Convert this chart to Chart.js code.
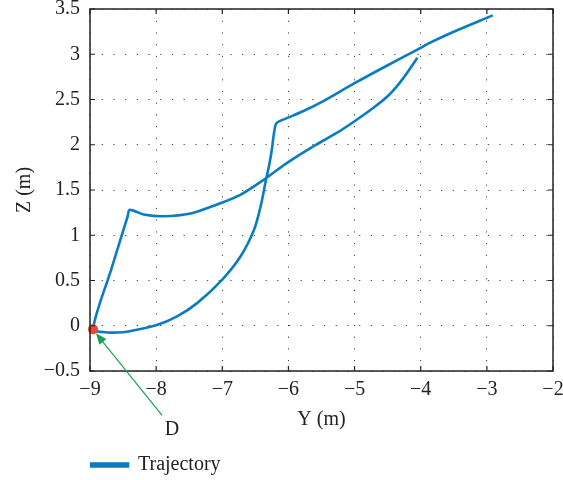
<!DOCTYPE html>
<html>
<head>
<meta charset="utf-8">
<script src="https://cdn.jsdelivr.net/npm/chart.js@4/dist/chart.umd.min.js"></script>
<style>
  html, body { margin: 0; padding: 0; background: #fff; }
  #wrap { width: 563px; height: 480px; }
</style>
</head>
<body>
<div id="wrap"><canvas id="chart" width="563" height="480"></canvas></div>
<script>
// trajectory (Y, Z in metres), in drawing order
const trajY = [-2.91, -3.56, -3.88, -4.00, -4.52, -5.00, -5.48, -5.78, -6.07, -6.18,
  -6.22, -6.25, -6.29, -6.34, -6.42, -6.52, -6.72, -7.00, -7.38, -7.69,
  -8.00, -8.40, -8.60, -8.80, -8.955,
  -8.68, -8.43, -8.40,
  -8.19, -7.89, -7.48, -7.08, -6.72, -6.34, -6.02, -5.63, -5.27,
  -5.00, -4.73, -4.48, -4.28, -4.05];
const trajZ = [3.43, 3.23, 3.12, 3.07, 2.87, 2.68, 2.48, 2.37, 2.28, 2.24,
  2.12, 1.95, 1.78, 1.61, 1.32, 1.06, 0.77, 0.51, 0.25, 0.10,
  0.005, -0.06, -0.075, -0.07, -0.04,
  0.62, 1.21, 1.28,
  1.23, 1.21, 1.24, 1.34, 1.45, 1.63, 1.80, 1.98, 2.13,
  2.26, 2.40, 2.55, 2.72, 2.96];

const pointD = { x: -8.955, y: -0.04 };
const labelD = { text: "D", x: -7.76, y: -1.13 };
const arrowTail = { x: -7.91, y: -0.99 };

const xTicks = [-9, -8, -7, -6, -5, -4, -3, -2];
const yTicks = [-0.5, 0, 0.5, 1, 1.5, 2, 2.5, 3, 3.5];

const serif = "'Liberation Serif', 'DejaVu Serif', serif";
const ink = "#222222";

const trajectory = trajY.map(function (y, i) { return { x: y, y: trajZ[i] }; });

function minus(v) {
    return String(v).replace("-", "\u2212");
}

function noPad(s) {
    s.paddingLeft = 0;
    s.paddingRight = 0;
    s.paddingTop = 0;
    s.paddingBottom = 0;
}

const boxPlugin = {
    id: "boxPlugin",
    afterDraw: function (chart) {
        const ctx = chart.ctx;
        const a = chart.chartArea;
        const sx = chart.scales.x;
        const sy = chart.scales.y;

        ctx.save();
        ctx.strokeStyle = ink;
        ctx.lineWidth = 1.5;
        ctx.strokeRect(a.left, a.top, a.right - a.left, a.bottom - a.top);

        // inward ticks on all four sides
        ctx.lineWidth = 1.2;
        ctx.beginPath();
        xTicks.forEach(function (v) {
            const px = sx.getPixelForValue(v);
            ctx.moveTo(px, a.bottom); ctx.lineTo(px, a.bottom - 5);
            ctx.moveTo(px, a.top); ctx.lineTo(px, a.top + 5);
        });
        yTicks.forEach(function (v) {
            const py = sy.getPixelForValue(v);
            ctx.moveTo(a.left, py); ctx.lineTo(a.left + 5, py);
            ctx.moveTo(a.right, py); ctx.lineTo(a.right - 5, py);
        });
        ctx.stroke();

        // arrow pointing at D
        const x0 = sx.getPixelForValue(arrowTail.x), y0 = sy.getPixelForValue(arrowTail.y);
        const x1 = sx.getPixelForValue(pointD.x) + 3, y1 = sy.getPixelForValue(pointD.y) + 4;
        const ang = Math.atan2(y1 - y0, x1 - x0);
        ctx.strokeStyle = "#1aa150";
        ctx.fillStyle = "#1aa150";
        ctx.lineWidth = 1.2;
        ctx.beginPath();
        ctx.moveTo(x0, y0);
        ctx.lineTo(x1 - 8 * Math.cos(ang), y1 - 8 * Math.sin(ang));
        ctx.stroke();
        ctx.beginPath();
        ctx.moveTo(x1, y1);
        ctx.lineTo(x1 - 11 * Math.cos(ang) + 4.5 * Math.sin(ang), y1 - 11 * Math.sin(ang) - 4.5 * Math.cos(ang));
        ctx.lineTo(x1 - 11 * Math.cos(ang) - 4.5 * Math.sin(ang), y1 - 11 * Math.sin(ang) + 4.5 * Math.cos(ang));
        ctx.closePath();
        ctx.fill();

        ctx.fillStyle = ink;
        ctx.font = "20px " + serif;
        ctx.textAlign = "center";
        ctx.textBaseline = "middle";
        ctx.fillText(labelD.text, sx.getPixelForValue(labelD.x), sy.getPixelForValue(labelD.y) + 2);
        ctx.restore();
    }
};

new Chart(document.getElementById("chart"), {
    type: "scatter",
    data: {
        datasets: [{
            label: "Trajectory",
            data: trajectory,
            showLine: true,
            borderColor: "#0a7cc2",
            backgroundColor: "#0a7cc2",
            borderWidth: 2.6,
            pointRadius: 0,
            tension: 0.3,
            order: 2
        }, {
            label: "D",
            data: [pointD],
            backgroundColor: "#ea4a2e",
            borderColor: "#ea4a2e",
            borderWidth: 0,
            pointRadius: 5,
            clip: false,
            order: 1
        }]
    },
    options: {
        responsive: false,
        animation: false,
        layout: { padding: { left: 0, right: 10, top: 9, bottom: -5 } },
        plugins: {
            tooltip: { enabled: false },
            legend: {
                position: "bottom",
                align: "start",
                fullSize: false,
                labels: {
                    filter: function (item) { return item.text === "Trajectory"; },
                    color: ink,
                    font: { family: serif, size: 20 },
                    boxWidth: 38,
                    boxHeight: 3,
                    padding: 0
                }
            }
        },
        scales: {
            x: {
                type: "linear",
                min: -9,
                max: -2,
                afterFit: function (s) { s.height = 84; noPad(s); },
                afterBuildTicks: function (s) { s.ticks = xTicks.map(function (v) { return { value: v }; }); },
                ticks: {
                    color: ink,
                    font: { family: serif, size: 20 },
                    padding: 7,
                    callback: function (v) { return minus(v); }
                },
                grid: { color: "#444", lineWidth: 1, drawTicks: false },
                border: { display: false, dash: [1.2, 10.5] },
                title: {
                    display: true,
                    text: "Y (m)",
                    color: ink,
                    font: { family: serif, size: 20 },
                    padding: { top: 0, bottom: 23 }
                }
            },
            y: {
                type: "linear",
                min: -0.5,
                max: 3.5,
                afterFit: function (s) { s.width = 90; noPad(s); },
                afterBuildTicks: function (s) { s.ticks = yTicks.map(function (v) { return { value: v }; }); },
                ticks: {
                    color: ink,
                    font: { family: serif, size: 20 },
                    padding: 10,
                    callback: function (v) { return minus(v); }
                },
                grid: { color: "#444", lineWidth: 1, drawTicks: false },
                border: { display: false, dash: [1.2, 10.5] },
                title: {
                    display: true,
                    text: "Z (m)",
                    color: ink,
                    font: { family: serif, size: 20 },
                    padding: { top: 13, bottom: 0 }
                }
            }
        }
    },
    plugins: [boxPlugin]
});
</script>
</body>
</html>
